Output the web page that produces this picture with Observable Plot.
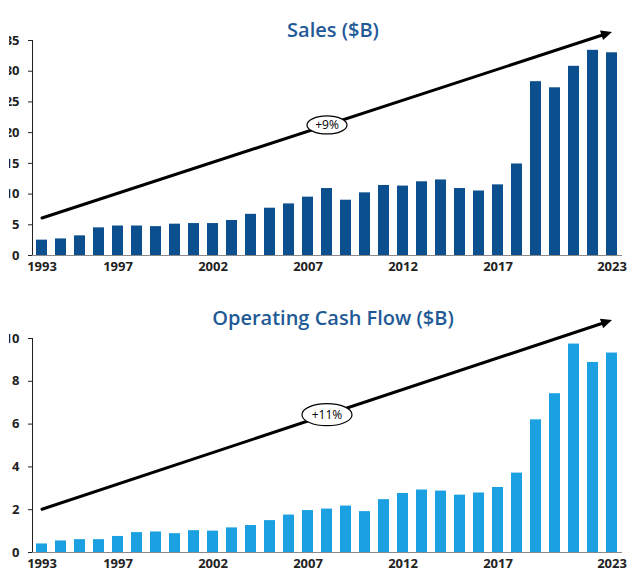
<!DOCTYPE html>
<html><head><meta charset="utf-8">
<script src="https://cdn.jsdelivr.net/npm/d3@7"></script>
<script src="https://cdn.jsdelivr.net/npm/@observablehq/plot@0.6"></script>
<style>
html,body{margin:0;padding:0;background:#fff;overflow:hidden;}
#root{position:relative;width:628px;height:571px;overflow:hidden;background:#fff;}
.title{position:absolute;left:0;width:666px;text-align:center;font-family:"Open Sans",sans-serif;font-weight:600;font-size:20px;color:#1f5a97;line-height:20px;white-space:nowrap;}
.panel{position:absolute;left:-7px;}
.panel svg{clip-path:inset(0px 0px 0px 16px);}
</style></head><body><div id="root"></div>
<script>
// ---- data ----
const years = [1993,1994,1995,1996,1997,1998,1999,2000,2001,2002,2003,2004,2005,2006,2007,2008,2009,2010,2011,2012,2013,2014,2015,2016,2017,2018,2019,2020,2021,2022,2023];
const sales = [2.5,2.7,3.2,4.5,4.8,4.8,4.7,5.1,5.2,5.2,5.7,6.7,7.7,8.4,9.5,10.9,9.0,10.2,11.4,11.3,12.0,12.3,10.9,10.5,11.5,14.9,28.3,27.3,30.8,33.4,33.0];
const ocf = [0.4,0.54,0.6,0.6,0.75,0.93,0.96,0.88,1.02,1.0,1.15,1.26,1.49,1.75,1.96,2.03,2.17,1.91,2.47,2.76,2.92,2.87,2.68,2.78,3.04,3.71,6.2,7.42,9.74,8.88,9.32];
const tickYears = [1993,1997,2002,2007,2012,2017,2023];
const salesTicks = [0,5,10,15,20,25,30,35];
const ocfTicks = [0,2,4,6,8,10];
const titles = ["Sales ($B)", "Operating Cash Flow ($B)"];
const trendLabels = ["+9%", "+11%"];
const trendFrom = [1993, 1993];
const trendTo = [2023, 2023];
const trendStart = [6.1, 2.02];
const trendEnd = [36.4, 10.86];
const labelYear = [2008, 2008];

// ---- helpers ----
const ellipse = (rx, ry) => ({
  draw(ctx) {
    const k = 0.5523, ox = rx * k, oy = ry * k;
    ctx.moveTo(-rx, 0);
    ctx.bezierCurveTo(-rx, -oy, -ox, -ry, 0, -ry);
    ctx.bezierCurveTo(ox, -ry, rx, -oy, rx, 0);
    ctx.bezierCurveTo(rx, oy, ox, ry, 0, ry);
    ctx.bezierCurveTo(-ox, ry, -rx, oy, -rx, 0);
    ctx.closePath();
  }
});
// arrowhead pointing right with its tip at the origin
const head = {
  draw(ctx) {
    ctx.moveTo(0, 0);
    ctx.lineTo(-11, -5);
    ctx.lineTo(-11, 5);
    ctx.closePath();
  }
};

function panel(i, values, color, yTicks, opts, rotate = 0) {
  const rows = years.map((year, j) => ({year, value: values[j]}));
  const trend = [{x1: trendFrom[i], x2: trendTo[i], y1: trendStart[i], y2: trendEnd[i]}];
  const lab = [{x: labelYear[i], y: (trendStart[i] + trendEnd[i]) / 2, t: trendLabels[i]}];
  return Plot.plot({
    width: 635,
    height: opts.height,
    marginLeft: 39,
    marginRight: 6,
    marginTop: opts.marginTop,
    marginBottom: opts.marginBottom,
    style: {fontFamily: "'Open Sans', sans-serif", fontSize: "13px", fontWeight: "bold", color: "#222", background: "white"},
    x: {type: "band", domain: years, paddingInner: 0.42, paddingOuter: 0.21, ticks: tickYears, tickSize: 0, tickPadding: 6, label: null, tickFormat: d => String(d)},
    y: {domain: [d3.min(yTicks), d3.max(yTicks)], ticks: yTicks, tickSize: 4, tickPadding: 9, label: null, line: true},
    marks: [
      Plot.barY(rows, {x: "year", y: "value", fill: color}),
      Plot.ruleY([0], {stroke: "#8a8a8a", strokeWidth: 1.2}),
      Plot.arrow(trend, {x1: "x1", y1: "y1", x2: "x2", y2: "y2", stroke: "black", strokeWidth: 3, headLength: 0, insetEnd: 6}),
      Plot.dot(trend, {x: "x2", y: "y2", symbol: head, fill: "black", stroke: "none", rotate}),
      Plot.dot(lab, {x: "x", y: "y", symbol: ellipse(opts.rx, opts.ry), fill: "white", stroke: "black", strokeWidth: 1.2}),
      Plot.text(lab, {x: "x", y: "y", text: "t", fontSize: 12, fontWeight: "normal", fill: "black"})
    ]
  });
}

function build(i, values, color, yTicks, opts) {
  const probe = panel(i, values, color, yTicks, opts);
  const X = probe.scale("x").apply, Y = probe.scale("y").apply;
  const ang = Math.atan2(Y(trendEnd[i]) - Y(trendStart[i]), X(trendTo[i]) - X(trendFrom[i])) * 180 / Math.PI;
  return panel(i, values, color, yTicks, opts, ang);
}

const root = document.getElementById("root");
function addTitle(text, top) {
  const d = document.createElement("div");
  d.className = "title";
  d.style.top = top + "px";
  d.textContent = text;
  root.appendChild(d);
}
function addPanel(svg, top) {
  const w = document.createElement("div");
  w.className = "panel";
  w.style.top = top + "px";
  w.appendChild(svg);
  root.appendChild(w);
}
addPanel(build(0, sales, "#0b4f8e", salesTicks, {height: 285, marginTop: 40, marginBottom: 30, rx: 20, ry: 9}), 0);
addPanel(build(1, ocf, "#1ba1e2", ocfTicks, {height: 281, marginTop: 48, marginBottom: 19, rx: 25, ry: 11}), 290);
addTitle(titles[0], 20);
addTitle(titles[1], 308);
</script>
</body></html>
